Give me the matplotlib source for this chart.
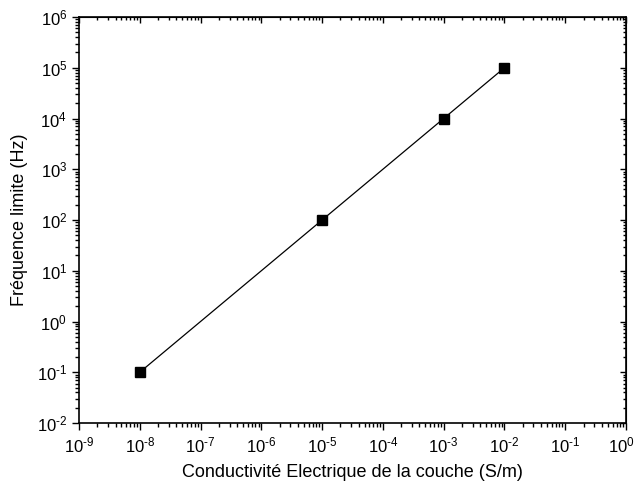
import matplotlib
matplotlib.use("Agg")
import matplotlib.pyplot as plt
import matplotlib.transforms as mtransforms
from matplotlib.ticker import LogLocator, NullFormatter, FuncFormatter
import math

conductivity = [1e-8, 1e-5, 1e-3, 1e-2]
frequency = [1e-1, 1e2, 1e4, 1e5]

plt.rcParams['font.family'] = ['Liberation Sans', 'DejaVu Sans']
plt.rcParams['mathtext.fontset'] = 'custom'
plt.rcParams['mathtext.rm'] = 'Liberation Sans'
plt.rcParams['mathtext.it'] = 'Liberation Sans'


def pow10(v, pos):
    e = int(round(math.log10(v)))
    if e < 0:
        return r'$10^{\text{-}%d}$' % (-e)
    return r'$10^{%d}$' % e


fig = plt.figure(figsize=(6.36, 4.91), dpi=100)
ax = fig.add_axes([79 / 636, 68 / 491, 547 / 636, 406 / 491])

ax.plot(conductivity, frequency, color='black', lw=0.9, marker='s',
        markersize=6.5, markerfacecolor='black', markeredgecolor='black')

ax.set_xscale('log')
ax.set_yscale('log')
ax.set_xlim(1e-9, 1e0)
ax.set_ylim(1e-2, 1e6)

ax.xaxis.set_major_locator(LogLocator(base=10, numticks=20))
ax.yaxis.set_major_locator(LogLocator(base=10, numticks=20))
ax.xaxis.set_minor_locator(LogLocator(base=10, subs=range(2, 10), numticks=20))
ax.yaxis.set_minor_locator(LogLocator(base=10, subs=range(2, 10), numticks=20))
ax.xaxis.set_major_formatter(FuncFormatter(pow10))
ax.yaxis.set_major_formatter(FuncFormatter(pow10))
ax.xaxis.set_minor_formatter(NullFormatter())
ax.yaxis.set_minor_formatter(NullFormatter())

for s in ax.spines.values():
    s.set_linewidth(1.2)

ax.tick_params(which='both', direction='out', top=False, right=False,
               labelsize=12, width=1.0)
ax.tick_params(which='major', length=5)
ax.tick_params(which='minor', length=3)
ax.tick_params(axis='x', pad=4)

# mirrored ticks on top and right, pointing inward
ax2 = ax.secondary_xaxis('top')
ax2.xaxis.set_major_locator(LogLocator(base=10, numticks=20))
ax2.xaxis.set_minor_locator(LogLocator(base=10, subs=range(2, 10), numticks=20))
ax2.tick_params(which='both', direction='in', labeltop=False, width=1.0)
ax2.tick_params(which='major', length=4)
ax2.tick_params(which='minor', length=2.5)
ax3 = ax.secondary_yaxis('right')
ax3.yaxis.set_major_locator(LogLocator(base=10, numticks=20))
ax3.yaxis.set_minor_locator(LogLocator(base=10, subs=range(2, 10), numticks=20))
ax3.tick_params(which='both', direction='in', labelright=False, width=1.0)
ax3.tick_params(which='major', length=4)
ax3.tick_params(which='minor', length=2.5)

ax.set_xlabel('Conductivité Electrique de la couche (S/m)', fontsize=13, labelpad=6)
ax.set_ylabel('Fréquence limite (Hz)', fontsize=13, labelpad=6)

# keep the last x label (10^0) inside the figure
fig.canvas.draw()
last = [t for t in ax.xaxis.get_major_ticks() if abs(t.get_loc() - 1.0) < 1e-9][0]
shift = mtransforms.ScaledTranslation(-5 / 100, 0, fig.dpi_scale_trans)
last.label1.set_transform(last.label1.get_transform() + shift)

fig.savefig('out.png', dpi=100)
